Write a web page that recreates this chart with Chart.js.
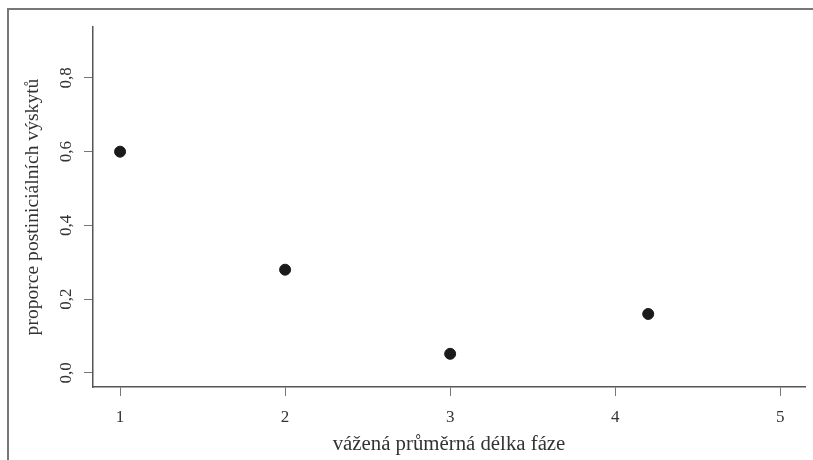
<!DOCTYPE html>
<html>
<head>
<meta charset="utf-8">
<script src="https://cdn.jsdelivr.net/npm/chart.js@4.4.0/dist/chart.umd.min.js"></script>
<style>
  html, body { margin: 0; padding: 0; background: #fff; }
  #wrap { position: relative; width: 813px; height: 460px; }
  #frame { position: absolute; left: 7px; top: 8px; right: 0; bottom: 0;
           border-top: 2px solid #777; border-left: 2px solid #777; }
  canvas { position: absolute; left: 0; top: 0; }
</style>
</head>
<body>
<div id="wrap">
  <div id="frame"></div>
  <canvas id="chart" width="813" height="460"></canvas>
</div>
<script>
// values
const xValues = [1, 2, 3, 4.2];
const yValues = [0.6, 0.28, 0.052, 0.16];
const xTicks = [1, 2, 3, 4, 5];
const yTicks = [0, 0.2, 0.4, 0.6, 0.8];
const yTickLabels = ['0,0', '0,2', '0,4', '0,6', '0,8'];
const xTitle = 'vážená průměrná délka fáze';
const yTitle = 'proporce postiniciálních výskytů';

Chart.defaults.font.family = '"Liberation Serif", "DejaVu Serif", serif';
Chart.defaults.color = '#333';

const axisColor = '#555';

const ctx = document.getElementById('chart').getContext('2d');
new Chart(ctx, {
    type: 'scatter',
    data: {
        datasets: [{
            data: xValues.map((x, i) => ({ x: x, y: yValues[i] })),
            backgroundColor: '#1a1a1a',
            borderColor: '#1a1a1a',
            pointRadius: 5.5,
            pointHoverRadius: 5.5
        }]
    },
    options: {
        responsive: false,
        animation: false,
        layout: {
            padding: { left: 0, top: 27, right: 8, bottom: 0 }
        },
        plugins: {
            legend: { display: false },
            tooltip: { enabled: false }
        },
        scales: {
            x: {
                type: 'linear',
                min: 0.836,
                max: 5.15,
                afterBuildTicks: function (scale) {
                    scale.ticks = xTicks.map(v => ({ value: v }));
                },
                afterFit: function (scale) {
                    scale.height = 73;
                },
                ticks: {
                    font: { size: 17 },
                    color: '#333',
                    padding: 11,
                    maxRotation: 0,
                    callback: function (value) { return String(value); }
                },
                grid: {
                    display: true,
                    drawOnChartArea: false,
                    drawTicks: true,
                    tickLength: 9,
                    color: '#777',
                    lineWidth: 1
                },
                border: { display: true, color: axisColor, width: 1.5 },
                title: {
                    display: true,
                    text: xTitle,
                    font: { size: 20.8 },
                    color: '#333',
                    padding: { top: 0, bottom: 3 }
                }
            },
            y: {
                type: 'linear',
                min: -0.038,
                max: 0.938,
                afterBuildTicks: function (scale) {
                    scale.ticks = yTicks.map(v => ({ value: v }));
                },
                afterFit: function (scale) {
                    scale.width = 93;
                },
                ticks: {
                    font: { size: 17 },
                    color: '#333',
                    padding: 7,
                    minRotation: 90,
                    maxRotation: 90,
                    crossAlign: 'center',
                    callback: function (value, index) { return yTickLabels[index]; }
                },
                grid: {
                    display: true,
                    drawOnChartArea: false,
                    drawTicks: true,
                    tickLength: 9,
                    color: '#777',
                    lineWidth: 1
                },
                border: { display: true, color: axisColor, width: 1.5 },
                title: {
                    display: true,
                    text: yTitle,
                    font: { size: 19.6 },
                    color: '#333',
                    padding: { top: 21, bottom: 0 }
                }
            }
        }
    }
});
</script>
</body>
</html>
